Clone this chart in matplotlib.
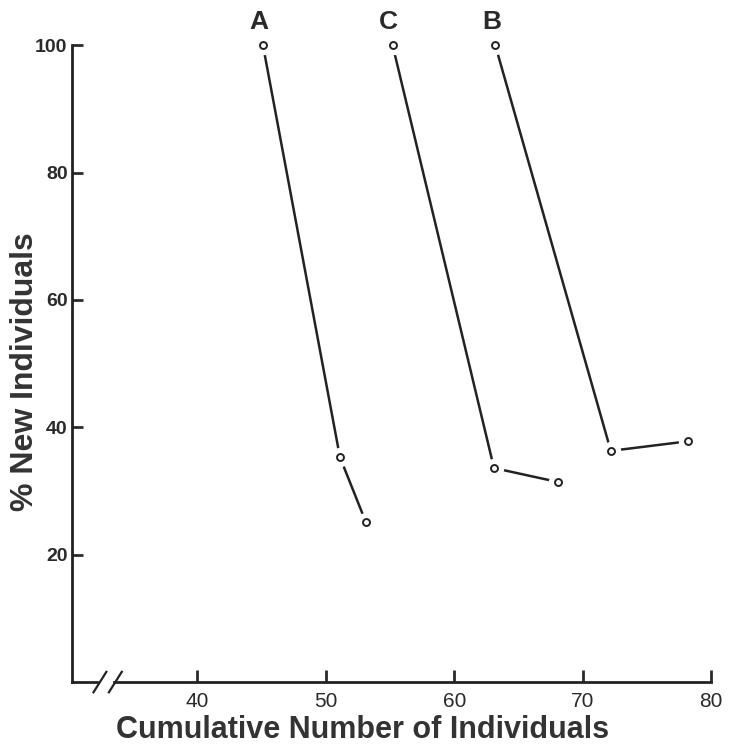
import matplotlib.pyplot as plt

# values
series_names = ["A", "C", "B"]
a_x = [45.1, 51.1, 53.1]
a_y = [100.0, 35.3, 25.2]
c_x = [55.2, 63.1, 68.1]
c_y = [100.0, 33.6, 31.4]
b_x = [63.2, 72.2, 78.2]
b_y = [100.0, 36.3, 37.8]

x_ticks = [40, 50, 60, 70, 80]
y_ticks = [20, 40, 60, 80, 100]

plt.rcParams["font.family"] = ["Liberation Sans", "DejaVu Sans"]

fig = plt.figure(figsize=(7.39, 7.52), dpi=100)
ax = fig.add_axes([0.097, 0.093, 0.865, 0.847])

for name, xs, ys in zip(series_names, [a_x, c_x, b_x], [a_y, c_y, b_y]):
    ax.plot(xs, ys, color="#222222", lw=1.8, clip_on=False, zorder=2)
    # white halo leaves the small gap between the line and each circle
    ax.plot(xs, ys, "o", ms=13, color="white", clip_on=False, zorder=3)
    ax.plot(xs, ys, "o", ms=5, mfc="white", mec="#222222", mew=1.4,
            clip_on=False, zorder=4)
    ax.text(xs[0] - 0.3, ys[0] + 1.8, name, fontsize=19, fontweight="bold",
            ha="center", va="bottom", color="#2a2a2a")

ax.set_xlim(30.2, 80)
ax.set_ylim(0, 100)
ax.set_xticks(x_ticks)
ax.set_yticks(y_ticks)
ax.tick_params(axis="y", direction="in", length=8, width=2, pad=3,
               labelsize=14, colors="#2a2a2a")
ax.tick_params(axis="x", direction="in", length=9, width=2, pad=7,
               labelsize=15, colors="#2a2a2a")
for lab in ax.get_yticklabels():
    lab.set_fontweight("bold")

for side in ["top", "right"]:
    ax.spines[side].set_visible(False)
ax.spines["left"].set_linewidth(2)
ax.spines["left"].set_color("#222222")
ax.spines["bottom"].set_visible(False)

# x axis drawn in two pieces with a break mark
ax.plot([30.2, 32.2], [0, 0], color="#222222", lw=2, clip_on=False)
ax.plot([33.5, 80], [0, 0], color="#222222", lw=2, clip_on=False)
for bx in [32.4, 33.6]:
    ax.plot([bx - 0.5, bx + 0.5], [-1.6, 1.6], color="#222222", lw=1.6,
            clip_on=False)

ax.set_xlabel("Cumulative Number of Individuals", fontsize=22,
              fontweight="bold", color="#333333")
ax.xaxis.set_label_coords(0.455, -0.052, transform=ax.transAxes)
ax.xaxis.label.set_va("top")
ax.set_ylabel("% New Individuals", fontsize=23, fontweight="bold",
              color="#333333")
ax.yaxis.set_label_coords(-0.073, 0.488, transform=ax.transAxes)
ax.yaxis.label.set_va("center")

fig.savefig("out.png", dpi=100)
